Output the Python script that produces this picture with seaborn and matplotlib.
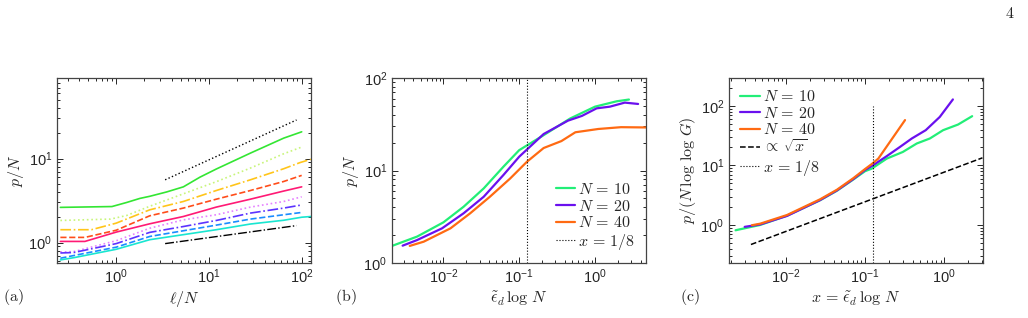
import numpy as np
import pandas as pd
import matplotlib
matplotlib.use('Agg')
import matplotlib.pyplot as plt
import seaborn as sns
from matplotlib.ticker import LogLocator, NullFormatter, LogFormatterSciNotation
from matplotlib.font_manager import FontProperties

# ---------------- data: panel (a) ----------------
a_green_x = [0.25, 0.9, 1.3, 1.8, 2.3, 3.5, 5.3, 8, 12, 28, 64, 100]
a_green_y = [2.62, 2.68, 3.0, 3.35, 3.55, 4.0, 4.6, 6.0, 7.5, 11.6, 17.5, 20.8]
a_lgreen_x = [0.25, 0.87, 1.3, 2.3, 5.3, 12, 28, 64, 100]
a_lgreen_y = [1.83, 1.9, 2.1, 2.7, 3.8, 5.3, 7.7, 11.4, 13.7]
a_yellow_x = [0.25, 0.54, 1.0, 2.3, 5.3, 12, 28, 64, 96, 126]
a_yellow_y = [1.42, 1.42, 1.7, 2.45, 3.08, 4.16, 5.58, 7.56, 8.95, 9.8]
a_red_x = [0.25, 0.46, 1.0, 2.3, 5.3, 12, 28, 64, 100]
a_red_y = [1.15, 1.15, 1.4, 2.08, 2.57, 3.28, 4.16, 5.33, 6.3]
a_pink_x = [0.25, 0.46, 1.0, 2.3, 5.3, 12, 28, 64, 100]
a_pink_y = [1.03, 1.03, 1.33, 1.67, 2.04, 2.64, 3.28, 4.1, 4.6]
a_violet_x = [0.25, 0.35, 1.0, 2.3, 5.3, 12, 28, 64, 100]
a_violet_y = [0.77, 0.78, 1.05, 1.48, 1.86, 2.14, 2.64, 3.08, 3.5]
a_blue_x = [0.25, 0.35, 1.0, 2.3, 5.3, 12, 28, 64, 100]
a_blue_y = [0.75, 0.76, 0.97, 1.32, 1.55, 1.83, 2.24, 2.57, 2.8]
a_azure_x = [0.25, 0.35, 1.0, 2.3, 5.3, 12, 28, 64, 100]
a_azure_y = [0.65, 0.7, 0.88, 1.18, 1.38, 1.61, 1.9, 2.14, 2.28]
a_cyan_x = [0.25, 0.35, 1.0, 2.3, 5.3, 12, 28, 64, 100, 126]
a_cyan_y = [0.62, 0.66, 0.83, 1.08, 1.24, 1.42, 1.66, 1.84, 2.0, 2.04]
a_ref_hi_x = [3.37, 88]
a_ref_hi_y = [5.58, 28.8]
a_ref_lo_x = [3.37, 88]
a_ref_lo_y = [0.97, 1.59]

# ---------------- data: panel (b) ----------------
b_n10_x = [0.0021, 0.0045, 0.01, 0.0185, 0.034, 0.062, 0.1, 0.2, 0.47, 1.0, 1.93, 2.8]
b_n10_y = [1.53, 1.93, 2.75, 4.06, 6.4, 11.0, 16.6, 23.5, 36.5, 49, 56, 58.5]
b_n20_x = [0.0029, 0.0045, 0.0096, 0.0185, 0.034, 0.062, 0.1, 0.21, 0.44, 0.67, 1.05, 1.57, 2.47, 3.7]
b_n20_y = [1.54, 1.77, 2.37, 3.45, 5.2, 8.95, 14.1, 24.8, 34.6, 38.9, 47, 49, 54.2, 52.4]
b_n40_x = [0.0036, 0.0055, 0.0124, 0.0226, 0.041, 0.076, 0.126, 0.21, 0.36, 0.55, 1.1, 2.2, 4.7]
b_n40_y = [1.53, 1.7, 2.37, 3.45, 5.2, 8.2, 12.4, 17.5, 20.8, 25.9, 28.1, 29.4, 29.2]

# ---------------- data: panel (c) ----------------
c_n10_x = [0.0023, 0.0047, 0.0103, 0.027, 0.044, 0.071, 0.1, 0.121, 0.188, 0.30, 0.45, 0.66, 0.97, 1.5, 2.26]
c_n10_y = [0.815, 1.0, 1.43, 2.6, 3.75, 5.8, 8.0, 8.8, 13.0, 16.8, 23.3, 28.3, 39, 48.5, 67]
c_n20_x = [0.003, 0.0047, 0.0103, 0.027, 0.044, 0.071, 0.1, 0.121, 0.188, 0.276, 0.39, 0.585, 0.88, 1.29]
c_n20_y = [0.93, 1.02, 1.42, 2.62, 3.8, 5.9, 8.4, 9.7, 14.3, 20.4, 28.3, 39, 65, 128]
c_n40_x = [0.0037, 0.0047, 0.0103, 0.027, 0.044, 0.071, 0.1, 0.121, 0.147, 0.32]
c_n40_y = [0.99, 1.05, 1.47, 2.7, 3.9, 6.1, 8.7, 10.5, 13.0, 57.6]
c_sqrt_x = [0.0036, 3.05]
c_sqrt_y = [0.47, 13.4]

x_mark = 1 / 8
c_mark_top = 100

labels_N = [r'$N\,=\,10$', r'$N\,=\,20$', r'$N\,=\,40$']
label_sqrt = r'$\propto\,\sqrt{x}$'
label_mark = r'$x\,=\,1/8$'
col_N = ['#22ee77', '#6a10ee', '#ff6a12']

# ---------------- style ----------------
sns.set_style('ticks')
plt.rcParams['font.family'] = ['Liberation Sans', 'DejaVu Sans']
plt.rcParams['mathtext.fontset'] = 'dejavusans'
plt.rcParams['axes.edgecolor'] = '#333333'
plt.rcParams['xtick.color'] = '#262626'
plt.rcParams['ytick.color'] = '#262626'

fig = plt.figure(figsize=(10.28, 3.18), dpi=100)
W, H = 1028, 318
def axrect(l, r, t, b):
    return [l / W, 1 - b / H, (r - l) / W, (b - t) / H]

axA = fig.add_axes(axrect(57, 311, 78, 263))
axB = fig.add_axes(axrect(392, 646, 78, 263))
axC = fig.add_axes(axrect(729, 983, 78, 263))

def line(ax, x, y, color, ls='-', lw=1.2, label=None):
    sns.lineplot(x=x, y=y, ax=ax, color=color, linestyle=ls, lw=lw,
                 estimator=None, sort=False, label=label, legend=False)

# panel (a)
line(axA, a_ref_hi_x, a_ref_hi_y, 'black', ':', 1.0)
line(axA, a_green_x, a_green_y, '#33e633', '-')
line(axA, a_lgreen_x, a_lgreen_y, '#c8f57a', ':')
line(axA, a_yellow_x, a_yellow_y, '#ffc51a', '-.')
line(axA, a_red_x, a_red_y, '#ff4d1a', '--')
line(axA, a_pink_x, a_pink_y, '#ff1a75', '-')
line(axA, a_violet_x, a_violet_y, '#e680ff', ':')
line(axA, a_blue_x, a_blue_y, '#5c33ff', '-.')
line(axA, a_azure_x, a_azure_y, '#1a8cff', '--')
line(axA, a_cyan_x, a_cyan_y, '#1ae6d1', '-')
line(axA, a_ref_lo_x, a_ref_lo_y, 'black', '-.', 1.0)
axA.set_xscale('log'); axA.set_yscale('log')
axA.set_xlim(0.23, 126); axA.set_ylim(0.57, 91)

# panel (b)
for xs, ys, c, lb in zip([b_n10_x, b_n20_x, b_n40_x], [b_n10_y, b_n20_y, b_n40_y], col_N, labels_N):
    line(axB, xs, ys, c, '-', 1.6, lb)
axB.set_xscale('log'); axB.set_yscale('log')
axB.set_xlim(0.0021, 4.7); axB.set_ylim(1, 100)
line(axB, [x_mark, x_mark], [1, 100], 'black', ':', 0.8, label_mark)

# panel (c)
for xs, ys, c, lb in zip([c_n10_x, c_n20_x, c_n40_x], [c_n10_y, c_n20_y, c_n40_y], col_N, labels_N):
    line(axC, xs, ys, c, '-', 1.6, lb)
line(axC, c_sqrt_x, c_sqrt_y, 'black', '--', 1.1, label_sqrt)
axC.set_xscale('log'); axC.set_yscale('log')
axC.set_xlim(0.0019, 3.1); axC.set_ylim(0.23, 293)
line(axC, [x_mark, x_mark], [0.23, c_mark_top], 'black', ':', 0.8, label_mark)

cm_prop = FontProperties(math_fontfamily='cm', size=11.5)
for ax in (axA, axB, axC):
    for axis in (ax.xaxis, ax.yaxis):
        axis.set_major_locator(LogLocator(base=10, numticks=20))
        axis.set_minor_locator(LogLocator(base=10, subs=np.arange(2, 10), numticks=50))
        axis.set_major_formatter(LogFormatterSciNotation())
        axis.set_minor_formatter(NullFormatter())
    ax.tick_params(which='both', direction='in', top=True, right=True, labelsize=10.5, width=0.7)
    ax.tick_params(which='major', length=4)
    ax.tick_params(which='minor', length=2)
    for s in ax.spines.values():
        s.set_visible(True)
        s.set_linewidth(0.9)
        s.set_color('#444444')

axA.set_xlabel(r'$\ell/N$', math_fontfamily='cm', fontsize=11.5, labelpad=2)
axA.set_ylabel(r'$p/N$', math_fontfamily='cm', fontsize=11.5, labelpad=2)
axB.set_xlabel(r'$\tilde{\epsilon}_d\,\log\,N$', math_fontfamily='cm', fontsize=11.5, labelpad=2)
axB.set_ylabel(r'$p/N$', math_fontfamily='cm', fontsize=11.5, labelpad=2)
axC.set_xlabel(r'$x\,=\,\tilde{\epsilon}_d\,\log\,N$', math_fontfamily='cm', fontsize=11.5, labelpad=2)
axC.set_ylabel(r'$p/(N\,\log\,\log\,G)$', math_fontfamily='cm', fontsize=11.5, labelpad=2)

legB = axB.legend(loc='lower right', frameon=False, prop=cm_prop, handlelength=1.2,
                  handletextpad=0.15, labelspacing=0.1, borderaxespad=0.3)
legC = axC.legend(loc='upper left', frameon=False, prop=cm_prop, handlelength=1.25,
                  handletextpad=0.15, labelspacing=0.1, borderaxespad=0.3)

fig.text(3 / W, 1 - 297 / H, r'$\mathrm{(a)}$', math_fontfamily='cm', fontsize=11.5, va='center', ha='left')
fig.text(335 / W, 1 - 297 / H, r'$\mathrm{(b)}$', math_fontfamily='cm', fontsize=11.5, va='center', ha='left')
fig.text(680 / W, 1 - 297 / H, r'$\mathrm{(c)}$', math_fontfamily='cm', fontsize=11.5, va='center', ha='left')
fig.text(1010 / W, 1 - 13 / H, r'$\mathrm{4}$', math_fontfamily='cm', fontsize=11.5, va='center', ha='center')

fig.savefig('out.png', dpi=100)
